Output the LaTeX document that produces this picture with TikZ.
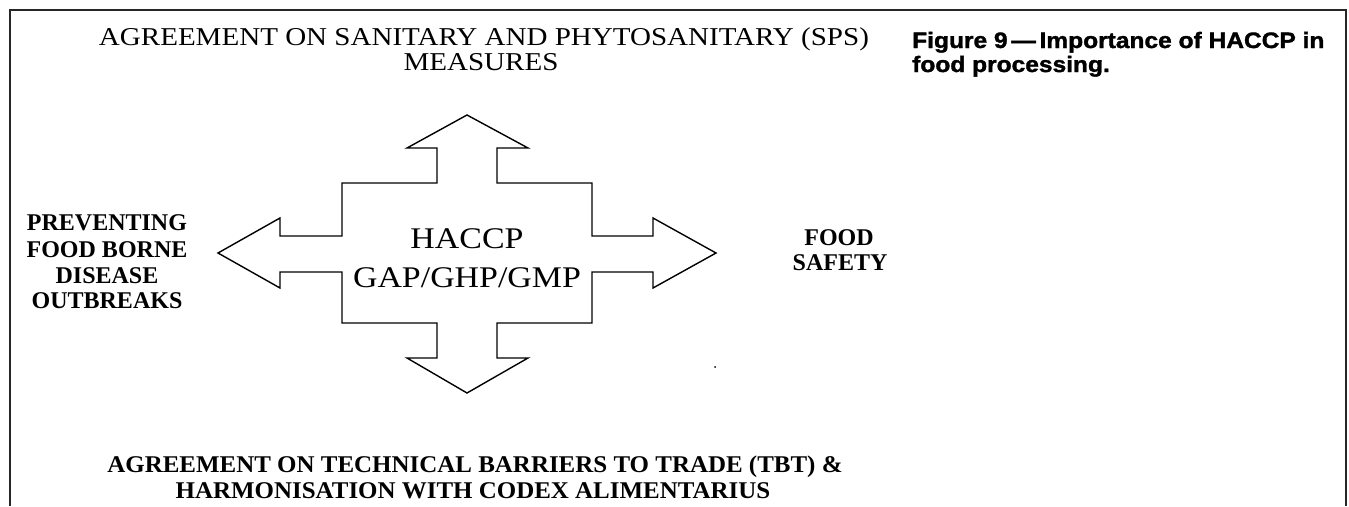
\documentclass[tikz,border=0pt]{standalone}
\usepackage{fontspec}
\setmainfont{Liberation Serif}
\newfontfamily\headfont[FakeStretch=1.13]{Liberation Serif}
\newfontfamily\ctrfont[FakeStretch=1.13]{Liberation Serif}
\newfontfamily\lblfont[FakeStretch=1.0]{Liberation Serif}
\newfontfamily\footfont[FakeStretch=1.04]{Liberation Serif}
\newfontfamily\capfont[FakeStretch=1.1,BoldFeatures={FakeBold=1.5}]{Liberation Sans}
\begin{document}
\begin{tikzpicture}[x=1pt,y=-1pt,
  frame/.style={line width=2pt,draw=black!85},
  blockarrow/.style={draw=black,line width=1.4pt,line join=miter},
  headtext/.style={anchor=base,inner sep=0pt,font=\headfont\fontsize{25.7}{20}\selectfont},
  foottext/.style={anchor=base,inner sep=0pt,font=\footfont\bfseries\fontsize{24}{20}\selectfont},
  sidetext/.style={anchor=base,inner sep=0pt,font=\lblfont\bfseries\fontsize{24}{20}\selectfont},
  centertext/.style={anchor=base,inner sep=0pt,font=\ctrfont\fontsize{30}{30}\selectfont},
  captext/.style={anchor=base west,inner sep=0pt,font=\capfont\bfseries\fontsize{22.3}{24}\selectfont}]
\useasboundingbox (0,0) rectangle (1349,506);

% frame: top rule and the two side rules
\draw[frame] (10,506) -- (10,10) -- (1346,10) -- (1346,506);

% four-way block arrow
\draw[blockarrow]
  (467,115) -- (528,148) -- (497,148) -- (497,183) -- (592,183) -- (592,236)
  -- (653,236) -- (653,218) -- (716,253) -- (653,288) -- (653,272) -- (592,272)
  -- (592,323) -- (497,323) -- (497,358) -- (528,358) -- (467,393) -- (407,358)
  -- (437,358) -- (437,323) -- (342,323) -- (342,272) -- (280,272) -- (280,288)
  -- (218,253) -- (280,218) -- (280,236) -- (342,236) -- (342,183) -- (437,183)
  -- (437,148) -- (407,148) -- cycle;

% centre labels
\node[centertext] (haccp) at (467,248) {HACCP};
\node[centertext] (gap) at (467,287) {GAP/GHP/GMP};

% top heading
\node[headtext] (sps1) at (484,45) {AGREEMENT ON SANITARY AND PHYTOSANITARY (SPS)};
\node[headtext] (sps2) at (481,70) {MEASURES};

% left label
\node[sidetext] (left1) at (107,230) {PREVENTING};
\node[sidetext] (left2) at (107,257) {FOOD BORNE};
\node[sidetext] (left3) at (107,283) {DISEASE};
\node[sidetext] (left4) at (107,308) {OUTBREAKS};

% right label
\node[sidetext] (right1) at (839,245) {FOOD};
\node[sidetext] (right2) at (840,270) {SAFETY};

% bottom heading
\node[foottext] (tbt1) at (475,472) {AGREEMENT ON TECHNICAL BARRIERS TO TRADE (TBT) \&};
\node[foottext] (tbt2) at (473,498) {HARMONISATION WITH CODEX ALIMENTARIUS};

% stray dot
\fill (715,367) circle (1pt);

% caption
\node[captext] (cap1) at (912,48) {Figure 9\,—\,Importance of HACCP in};
\node[captext] (cap2) at (912,72) {food processing.};
\end{tikzpicture}
\end{document}
